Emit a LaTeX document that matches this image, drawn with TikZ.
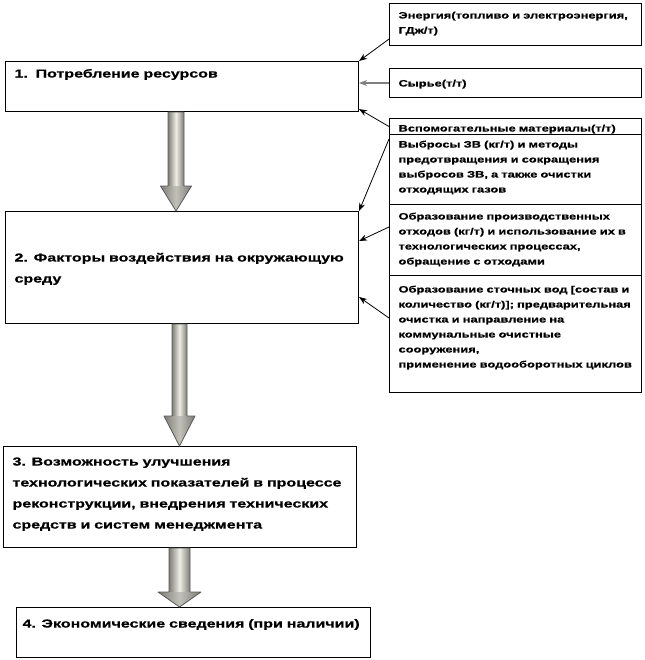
\documentclass[tikz,border=0pt]{standalone}
\usepackage{fontspec}
\setmainfont[FakeStretch=1.38, BoldFeatures={FakeBold=0.6}]{Liberation Sans}
\usetikzlibrary{calc,arrows.meta}

\definecolor{arrdark}{RGB}{125,125,118}
\definecolor{arrlight}{RGB}{238,238,230}

\tikzset{
  mainbox/.style={draw, line width=0.8pt, anchor=north west, align=left,
    text width=251.25pt, inner xsep=6.75pt, inner ysep=0pt,
    font=\fontsize{8.7}{15.75}\selectfont\bfseries},
  sidebox/.style={draw, line width=0.8pt, anchor=north west, align=left,
    text width=175.5pt, inner xsep=6.75pt, inner ysep=0pt,
    font=\fontsize{7}{11.25}\selectfont\bfseries},
  thinarr/.style={-{Stealth[length=6pt,width=4.5pt]}, line width=0.6pt},
}

% block arrow: from, to, centre x, half shaft, half head, head length
\newcommand\bigarrow[6]{%
  \shade[left color=arrdark, right color=arrdark, middle color=arrlight]
    ($(#1.south -| o)+(#3-#4,0)$) rectangle ($(#2.north -| o)+(#3+#4,-#6)$);
  \shade[left color=arrdark, right color=arrdark, middle color=arrlight!60!arrdark]
    ($(#2.north -| o)+(#3-#5,-#6)$) -- ($(#2.north -| o)+(#3+#5,-#6)$)
    -- ($(#2.north -| o)+(#3,0)$) -- cycle;
  \draw[line width=0.6pt, black!65, line join=round]
    ($(#1.south -| o)+(#3-#4,0)$) -- ($(#1.south -| o)+(#3+#4,0)$)
    -- ($(#2.north -| o)+(#3+#4,-#6)$) -- ($(#2.north -| o)+(#3+#5,-#6)$)
    -- ($(#2.north -| o)+(#3,0)$) -- ($(#2.north -| o)+(#3-#5,-#6)$)
    -- ($(#2.north -| o)+(#3-#4,-#6)$) -- cycle;}

\begin{document}
\begin{tikzpicture}[x=0.75pt, y=-0.75pt]
	\useasboundingbox (0,0) rectangle (644,660);
	\coordinate (o) at (0,0);

	% main column
	\node[mainbox, text height=12pt, text depth=25.5pt] (b1) at (5,61) {1.\ \ Потребление ресурсов};
	\node[mainbox, text height=37.5pt, text depth=46.5pt] (b2) at (5,211) {2. Факторы воздействия на окружающую\\среду};
	\node[mainbox, text height=14.25pt, text depth=61.5pt] (b3) at (3,446) {3. Возможность улучшения\\технологических показателей в процессе\\реконструкции, внедрения технических\\средств и систем менеджмента};
	\node[mainbox, text height=15pt, text depth=22.5pt, inner xsep=4.5pt, text width=256.5pt] (b4) at (16,607) {4. Экономические сведения (при наличии)};

	% side column
	\node[sidebox, text height=11.25pt, text depth=20.25pt] (en) at (389,3) {Энергия(топливо и электроэнергия,\\ГДж/т)};
	\node[sidebox, text height=13.5pt, text depth=8.25pt] (sy) at (389,68) {Сырье(т/т)};
	\node[sidebox, text height=9.75pt, text depth=2.25pt] (vs) at (389,118) {Вспомогательные материалы(т/т)};
	\node[sidebox, text height=9.75pt, text depth=42.75pt] (vy) at (389,134) {Выбросы ЗВ (кг/т) и методы\\предотвращения и сокращения\\выбросов ЗВ, а также очистки\\отходящих газов};
	\node[sidebox, text height=11.25pt, text depth=42pt] (ob) at (389,204) {Образование производственных\\отходов (кг/т) и использование их в\\технологических процессах,\\обращение с отходами};
	\node[sidebox, text height=12.75pt, text depth=75pt] (st) at (389,275) {Образование сточных вод [состав и\\количество (кг/т)]; предварительная\\очистка и направление на\\коммунальные очистные\\сооружения,\\применение водооборотных циклов};

	% big arrows
	\bigarrow{b1}{b2}{176}{8}{15.5}{25}
	\bigarrow{b2}{b3}{179.5}{7.5}{15.5}{30}
	\bigarrow{b3}{b4}{179.5}{10.5}{21.5}{15}

	% thin arrows
	\draw[thinarr] ([yshift=5.25pt]en.south west) -- (b1.north east);
	\draw[thinarr, gray, line width=1.2pt] (sy.west) -- (sy.west -| b1.east);
	\draw[thinarr] (vs.west) -- ([yshift=2.25pt]b1.south east);
	\draw[thinarr] ([yshift=-3.75pt]vy.north west) -- (b2.north east);
	\draw[thinarr] ([yshift=-17.25pt]ob.north west) -- ([yshift=-22.5pt]b2.north east);
	\draw[thinarr] ([yshift=-32.25pt]st.north west) -- ([yshift=-64.5pt]b2.north east);
\end{tikzpicture}
\end{document}
